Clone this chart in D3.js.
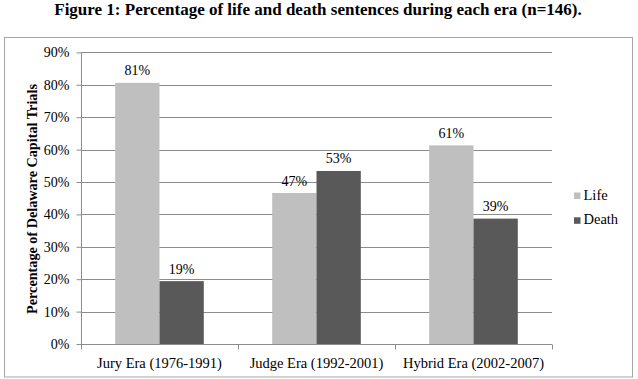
<!DOCTYPE html>
<html>
<head>
<meta charset="utf-8">
<script src="https://cdn.jsdelivr.net/npm/d3@7"></script>
<style>
  html, body { margin: 0; padding: 0; background: #fff; }
  svg { display: block; font-family: "Liberation Serif", "Times New Roman", serif; }
  svg text { font-family: "Liberation Serif", "Times New Roman", serif; }
</style>
</head>
<body>
<svg id="chart" width="638" height="379"></svg>
<script>
const title = "Figure 1: Percentage of life and death sentences during each era (n=146).";
const yAxisTitle = "Percentage of Delaware Capital Trials";
const categories = ["Jury Era (1976-1991)", "Judge Era (1992-2001)", "Hybrid Era (2002-2007)"];
const seriesNames = ["Life", "Death"];
const lifeValues = [80.6, 46.6, 61.3];
const deathValues = [19.4, 53.4, 38.7];
const valueLabels = [["81%", "47%", "61%"], ["19%", "53%", "39%"]];
const yTicks = [0, 10, 20, 30, 40, 50, 60, 70, 80, 90];
const colors = ["#bfbfbf", "#595959"];

const series = [lifeValues, deathValues];
const svg = d3.select("#chart");

// outer chart border
svg.append("rect").attr("x", 4.5).attr("y", 37.5).attr("width", 628).attr("height", 339.5)
  .attr("fill", "none").attr("stroke", "#a6a6a6").attr("stroke-width", 1);

// title
svg.append("text").attr("x", 318).attr("y", 15).attr("text-anchor", "middle")
  .attr("font-size", 17).attr("font-weight", "bold").attr("fill", "#000").text(title);

const x = d3.scaleBand().domain(categories).range([81, 552]).paddingInner(0).paddingOuter(0);
const y = d3.scaleLinear().domain([0, 90]).range([344, 52.4]);
const barW = 44.3;
const xs = d3.scaleBand().domain(seriesNames).range([0, barW * 2]);

// gridlines
svg.append("g").selectAll("line").data(yTicks.filter(d => d > 0)).join("line")
  .attr("x1", 81).attr("x2", 552)
  .attr("y1", d => Math.round(y(d)) + 0.5).attr("y2", d => Math.round(y(d)) + 0.5)
  .attr("stroke", "#8c8c8c").attr("stroke-width", 1);

// bars
const groups = svg.append("g").selectAll("g").data(categories).join("g")
  .attr("transform", c => `translate(${x(c) + (x.bandwidth() - barW * 2) / 2},0)`);

seriesNames.forEach((s, si) => {
  groups.append("rect")
    .attr("x", xs(s))
    .attr("width", xs.bandwidth())
    .attr("y", (c, i) => y(series[si][i]))
    .attr("height", (c, i) => y(0) - y(series[si][i]))
    .attr("fill", colors[si]);
  groups.append("text")
    .attr("x", xs(s) + xs.bandwidth() / 2)
    .attr("y", (c, i) => y(series[si][i]) - 7.5)
    .attr("text-anchor", "middle").attr("font-size", 14).attr("fill", "#000")
    .text((c, i) => valueLabels[si][i]);
});

// y axis
const yAxis = d3.axisLeft(y).tickValues(yTicks).tickFormat(d => d + "%").tickSize(5).tickPadding(7);
const yg = svg.append("g").attr("transform", "translate(81.5,0)").call(yAxis);
yg.attr("font-family", null);
yg.select(".domain").attr("stroke", "#8c8c8c").attr("d", `M0,${y(90)}V${y(0)}`);
yg.selectAll(".tick line").attr("stroke", "#8c8c8c");
yg.selectAll(".tick text").attr("font-size", 14).attr("fill", "#000");

// x axis
const xAxis = d3.axisBottom(x).tickSize(0).tickPadding(13);
const xg = svg.append("g").attr("transform", "translate(0,344.5)").call(xAxis);
xg.attr("font-family", null);
xg.select(".domain").attr("stroke", "#8c8c8c").attr("d", `M81,0H552`);
xg.selectAll(".tick text").attr("font-size", 14.5).attr("fill", "#000");
// category boundary ticks
const bounds = categories.map(c => x(c)).concat([x(categories[categories.length - 1]) + x.bandwidth()]);
xg.append("g").selectAll("line").data(bounds).join("line")
  .attr("x1", d => Math.round(d) + 0.5).attr("x2", d => Math.round(d) + 0.5)
  .attr("y1", 0).attr("y2", 5).attr("stroke", "#8c8c8c");

// y axis title
svg.append("text").attr("transform", "translate(37,199) rotate(-90)")
  .attr("text-anchor", "middle").attr("font-size", 14.2).attr("font-weight", "bold")
  .attr("fill", "#000").text(yAxisTitle);

// legend
const legend = svg.append("g").selectAll("g").data(seriesNames).join("g")
  .attr("transform", (d, i) => `translate(574,${192.5 + i * 24.8})`);
legend.append("rect").attr("width", 6.5).attr("height", 6.5).attr("fill", (d, i) => colors[i]);
legend.append("text").attr("x", 9.5).attr("y", 7).attr("font-size", 14.5).attr("fill", "#000").text(d => d);
</script>
</body>
</html>
